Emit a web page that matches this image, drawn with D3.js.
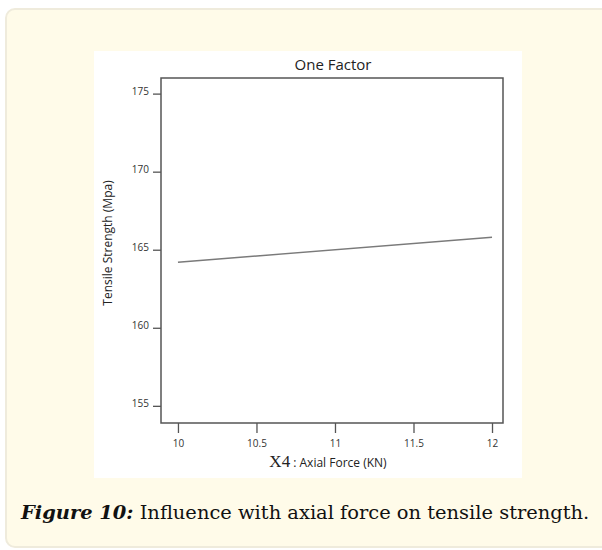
<!DOCTYPE html>
<html>
<head>
<meta charset="utf-8">
<script src="https://cdn.jsdelivr.net/npm/d3@7"></script>
<style>
  body { margin: 0; background: #fff; }
  svg { display: block; }
</style>
</head>
<body>
<script>
// data
const xValues = [10, 12]
const strength = [164.2, 165.8]
const xTicks = [10, 10.5, 11, 11.5, 12]
const yTicks = [155, 160, 165, 170, 175]

const width = 602
const height = 550

const svg = d3.select('body')
  .append('svg')
  .attr('width', width)
  .attr('height', height)

// card behind the figure
svg.append('rect')
  .attr('x', 6)
  .attr('y', 9)
  .attr('width', 640)
  .attr('height', 538)
  .attr('rx', 9)
  .attr('fill', '#fffbe9')
  .attr('stroke', '#efebdc')
  .attr('stroke-width', 2)

// white picture area
svg.append('rect')
  .attr('x', 94)
  .attr('y', 51)
  .attr('width', 428)
  .attr('height', 427)
  .attr('fill', '#fff')

const frame = { left: 161, right: 503, top: 78, bottom: 423 }

const x = d3.scaleLinear()
  .domain([9.892, 12.07])
  .range([frame.left, frame.right])

const y = d3.scaleLinear()
  .domain([153.9, 176.0])
  .range([frame.bottom, frame.top])

const font = "'Open Sans', 'Liberation Sans', sans-serif"

// frame
svg.append('rect')
  .attr('x', frame.left)
  .attr('y', frame.top)
  .attr('width', frame.right - frame.left)
  .attr('height', frame.bottom - frame.top)
  .attr('fill', 'none')
  .attr('stroke', '#555')
  .attr('stroke-width', 1.5)

// axes
const xAxis = svg.append('g')
  .attr('transform', `translate(0,${frame.bottom})`)
  .call(d3.axisBottom(x).tickValues(xTicks).tickSize(10).tickPadding(7)
    .tickFormat(d3.format('')))
xAxis.select('.domain').remove()

const yAxis = svg.append('g')
  .attr('transform', `translate(${frame.left},0)`)
  .call(d3.axisLeft(y).tickValues(yTicks).tickSize(8).tickPadding(4))
yAxis.select('.domain').remove()

svg.selectAll('.tick line')
  .attr('stroke', '#555')
  .attr('stroke-width', 1.3)
svg.selectAll('.tick text')
  .attr('fill', '#333')
  .style('font', `10px ${font}`)
yAxis.selectAll('.tick text').attr('dy', '0.1em')

// fitted line
svg.append('path')
  .datum(xValues.map((v, i) => [v, strength[i]]))
  .attr('fill', 'none')
  .attr('stroke', '#7a7a7a')
  .attr('stroke-width', 1.5)
  .attr('d', d3.line().x((d) => x(d[0])).y((d) => y(d[1])))

// title
svg.append('text')
  .attr('x', 333)
  .attr('y', 70)
  .attr('text-anchor', 'middle')
  .attr('fill', '#222')
  .style('font', `15px ${font}`)
  .text('One Factor')

// x label
const xl = svg.append('text')
  .attr('x', 328)
  .attr('y', 467)
  .attr('text-anchor', 'middle')
  .attr('fill', '#222')
xl.append('tspan')
  .style('font', "17px 'Liberation Serif', serif")
  .text('X4')
xl.append('tspan')
  .style('font', `12px ${font}`)
  .text(' : Axial Force (KN)')

// y label
svg.append('text')
  .attr('transform', 'translate(112,243) rotate(-90)')
  .attr('text-anchor', 'middle')
  .attr('fill', '#222')
  .style('font', `12px ${font}`)
  .text('Tensile Strength (Mpa)')

// caption, sized to span the same width as in the figure
const cap = svg.append('text')
  .attr('x', 21)
  .attr('y', 519)
  .attr('fill', '#111')
  .style('font-family', "'DejaVu Serif', serif")
  .style('font-size', '18px')
cap.append('tspan')
  .style('font-weight', 'bold')
  .style('font-style', 'italic')
  .text('Figure 10:')
cap.append('tspan')
  .text(' Influence with axial force on tensile strength.')
const capW = cap.node().getComputedTextLength()
cap.style('font-size', (18 * 569 / capW).toFixed(2) + 'px')
</script>
</body>
</html>
